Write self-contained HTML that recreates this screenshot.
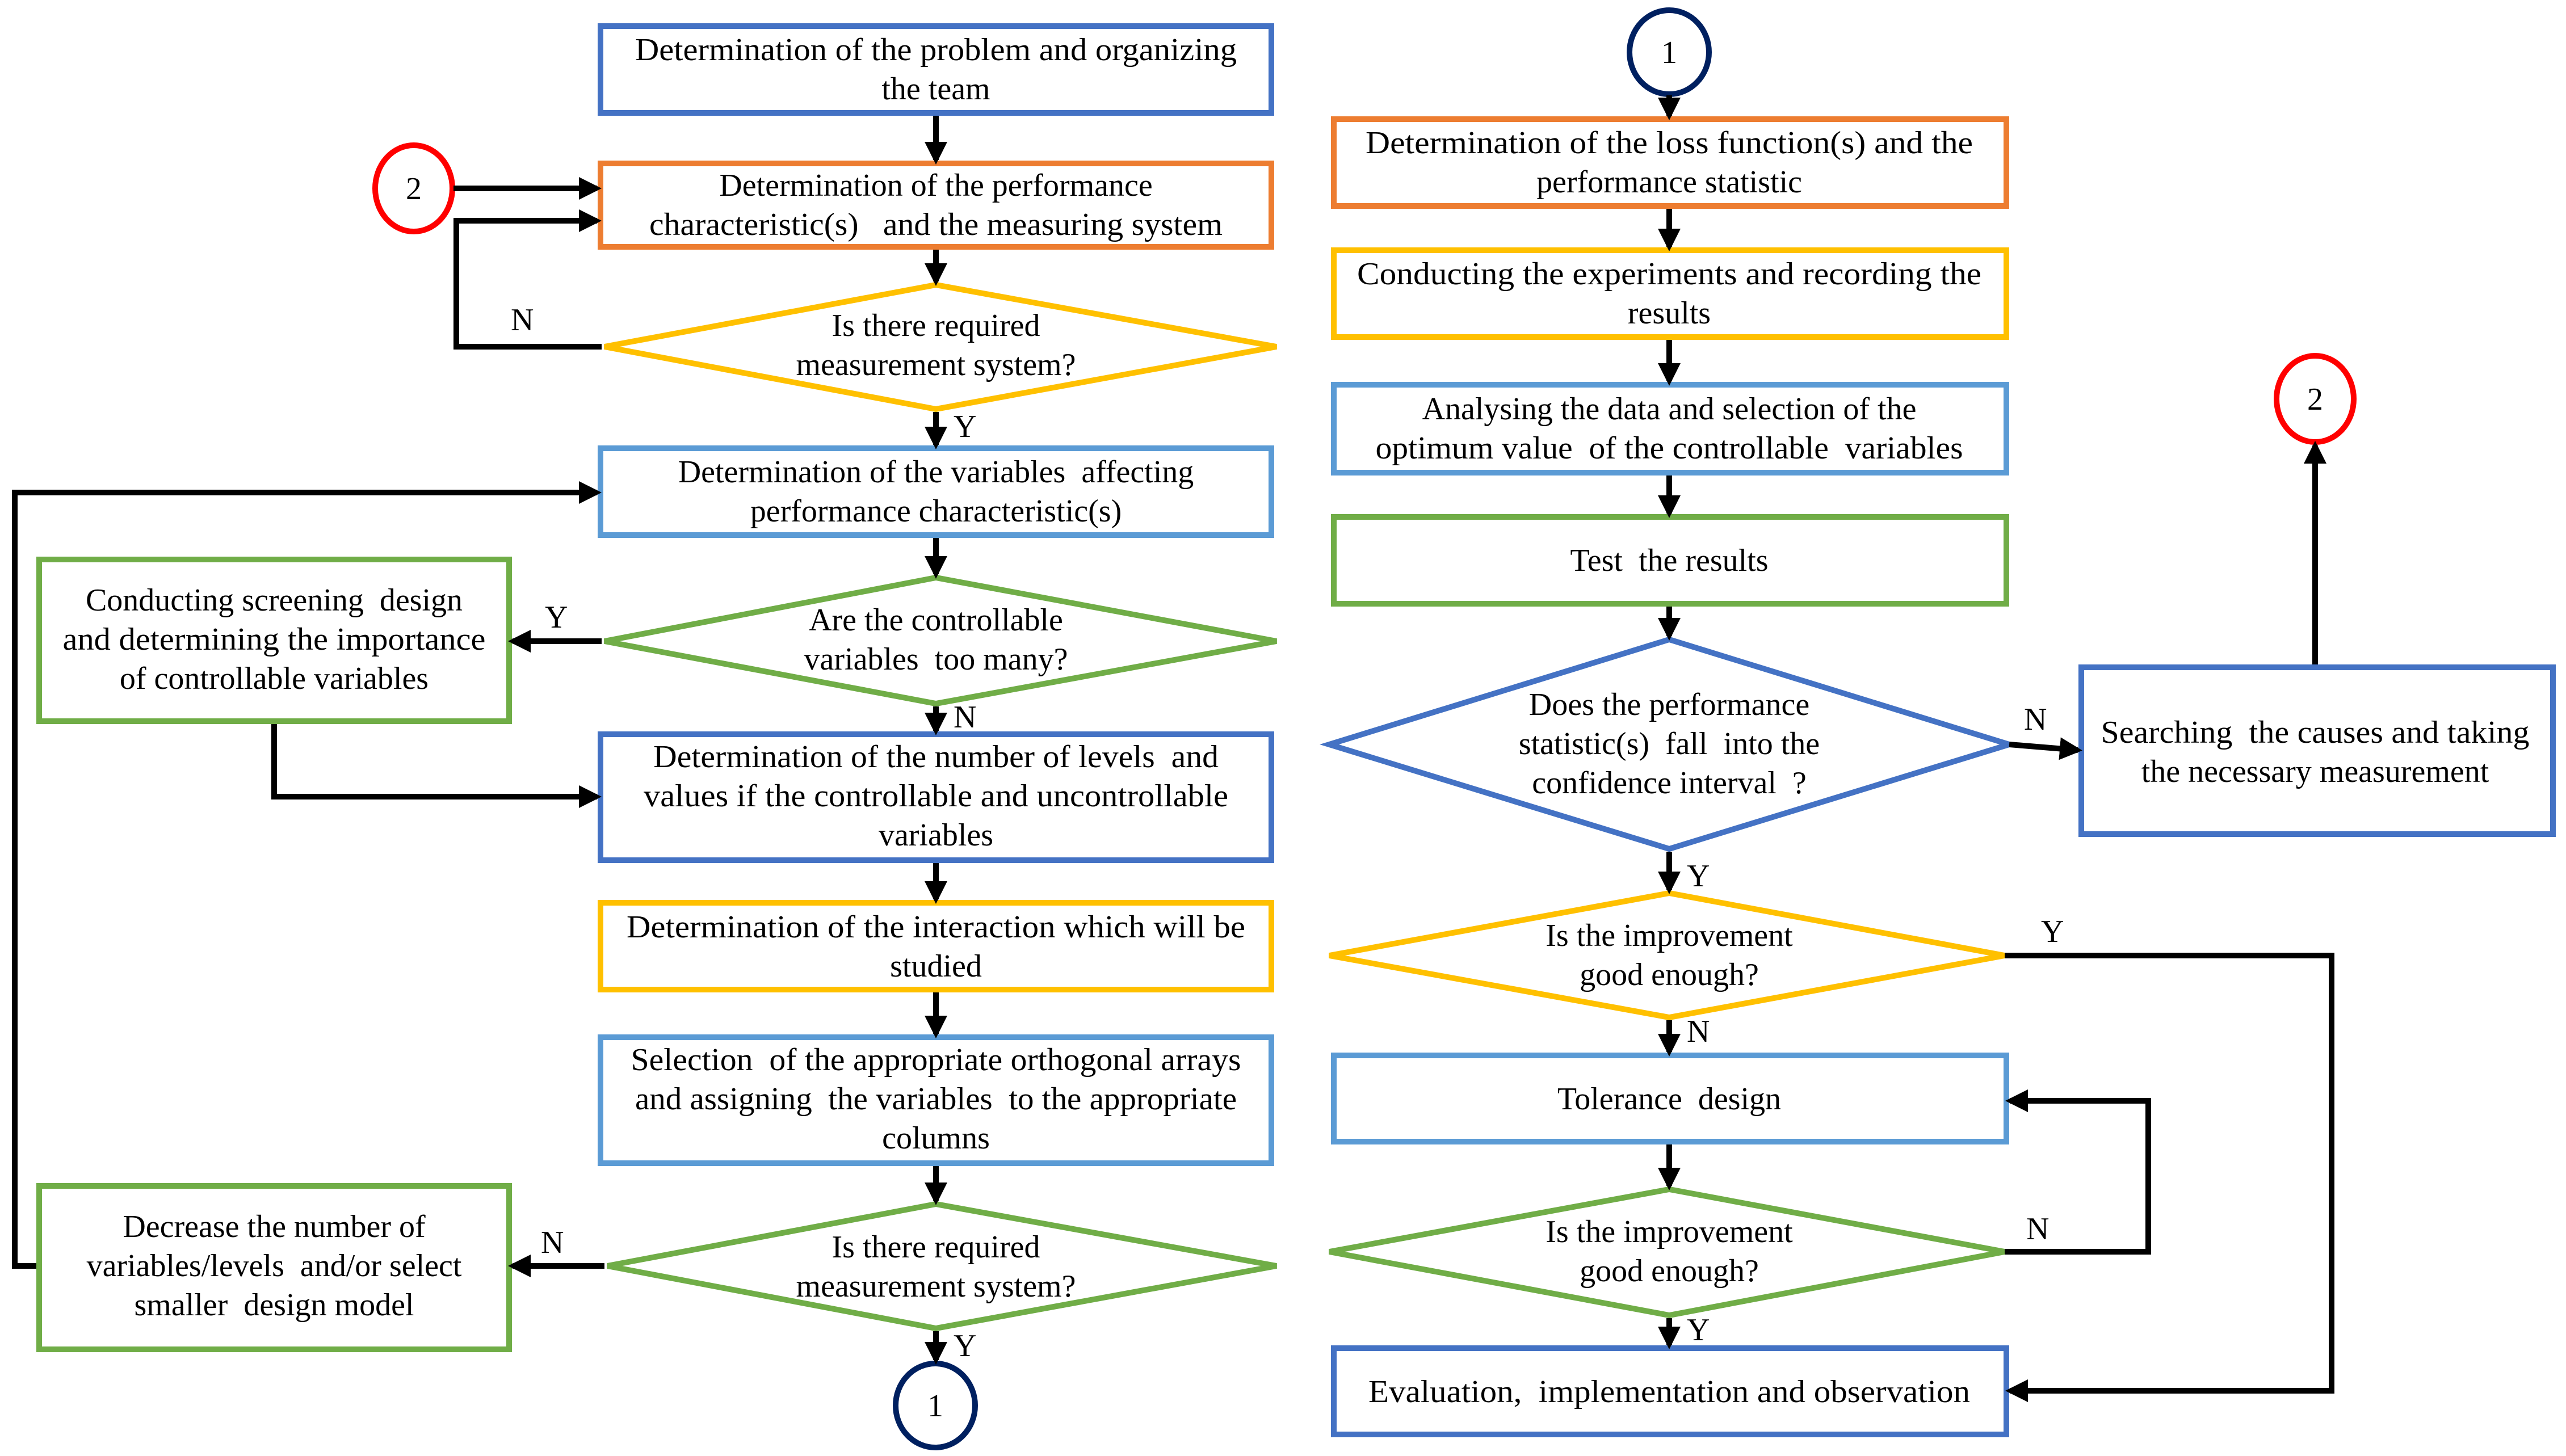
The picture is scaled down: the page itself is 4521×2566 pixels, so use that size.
<!DOCTYPE html>
<html><head><meta charset="utf-8"><style>
html,body{margin:0;padding:0;background:#fff;}
svg{display:block;}
svg text{font-family:"Liberation Serif","DejaVu Serif",serif !important;font-size:56px;fill:#000;}
</style></head><body>
<svg width="4521" height="2566" viewBox="0 0 4521 2566" xmlns="http://www.w3.org/2000/svg" font-family="Liberation Serif, DejaVu Serif, serif">
<defs>
<marker id="a" markerWidth="4" markerHeight="4" refX="3.2" refY="2" orient="auto" markerUnits="strokeWidth">
<path d="M0,0 L4,2 L0,4 z" fill="#000"/>
</marker>
</defs>
<g fill="#fff" stroke-width="10">
<rect x="1058" y="46" width="1182" height="153" stroke="#4472C4"/>
<rect x="1058" y="288" width="1182" height="147" stroke="#ED7D31"/>
<polygon points="1065,611 1649,502 2249,611 1649,721" stroke="#FFC000"/>
<rect x="1058" y="790" width="1182" height="153" stroke="#5B9BD5"/>
<polygon points="1065,1130 1649,1018 2249,1130 1649,1240" stroke="#70AD47"/>
<rect x="69" y="986" width="828" height="285" stroke="#70AD47"/>
<rect x="1058" y="1294" width="1182" height="222" stroke="#4472C4"/>
<rect x="1058" y="1591" width="1182" height="153" stroke="#FFC000"/>
<rect x="1058" y="1828" width="1182" height="222" stroke="#5B9BD5"/>
<polygon points="1070,2231 1649,2122 2249,2231 1649,2341" stroke="#70AD47"/>
<rect x="69" y="2090" width="828" height="288" stroke="#70AD47"/>
<ellipse cx="1648" cy="2477" rx="70" ry="74" stroke="#002060"/>
<ellipse cx="729" cy="332" rx="68" ry="76" stroke="#FF0000"/>
<ellipse cx="2941" cy="92" rx="70" ry="74" stroke="#002060"/>
<rect x="2350" y="210" width="1185" height="153" stroke="#ED7D31"/>
<rect x="2350" y="441" width="1185" height="153" stroke="#FFC000"/>
<rect x="2350" y="678" width="1185" height="155" stroke="#5B9BD5"/>
<rect x="2350" y="911" width="1185" height="153" stroke="#70AD47"/>
<polygon points="2342,1312 2941,1127 3540,1312 2941,1496" stroke="#4472C4"/>
<rect x="3667" y="1176" width="831" height="294" stroke="#4472C4"/>
<ellipse cx="4079" cy="703" rx="68" ry="76" stroke="#FF0000"/>
<polygon points="2342,1684 2941,1574 3532,1684 2941,1793" stroke="#FFC000"/>
<rect x="2350" y="1860" width="1185" height="152" stroke="#5B9BD5"/>
<polygon points="2342,2206 2941,2096 3532,2206 2941,2318" stroke="#70AD47"/>
<rect x="2350" y="2376" width="1185" height="152" stroke="#4472C4"/>
</g>
<g stroke="#000" stroke-width="10" fill="none" marker-end="url(#a)">
<line x1="1649" y1="204" x2="1649" y2="282"/>
<line x1="1649" y1="440" x2="1649" y2="496"/>
<line x1="1649" y1="726" x2="1649" y2="784"/>
<line x1="1649" y1="948" x2="1649" y2="1012"/>
<line x1="1649" y1="1245" x2="1649" y2="1288"/>
<line x1="1649" y1="1521" x2="1649" y2="1585"/>
<line x1="1649" y1="1749" x2="1649" y2="1822"/>
<line x1="1649" y1="2055" x2="1649" y2="2116"/>
<line x1="1649" y1="2346" x2="1649" y2="2397"/>
<line x1="799" y1="332" x2="1052" y2="332"/>
<polyline points="1060,611 804,611 804,389 1052,389"/>
<line x1="1060" y1="1130" x2="903" y2="1130"/>
<polyline points="483,1276 483,1404 1052,1404"/>
<line x1="1065" y1="2231" x2="903" y2="2231"/>
<polyline points="64,2231 26,2231 26,868 1052,868"/>
<line x1="2941" y1="168" x2="2941" y2="204"/>
<line x1="2941" y1="368" x2="2941" y2="435"/>
<line x1="2941" y1="599" x2="2941" y2="672"/>
<line x1="2941" y1="838" x2="2941" y2="905"/>
<line x1="2941" y1="1069" x2="2941" y2="1121"/>
<line x1="2941" y1="1501" x2="2941" y2="1568"/>
<line x1="2941" y1="1798" x2="2941" y2="1854"/>
<line x1="2941" y1="2017" x2="2941" y2="2090"/>
<line x1="2941" y1="2323" x2="2941" y2="2370"/>
<line x1="3540" y1="1312" x2="3661" y2="1322"/>
<line x1="4079" y1="1171" x2="4079" y2="785"/>
<polyline points="3532,1684 4108,1684 4108,2451 3541,2451"/>
<polyline points="3532,2206 3785,2206 3785,1940 3541,1940"/>
</g>
<g text-anchor="middle" font-family="Liberation Serif, DejaVu Serif, serif" font-size="56" transform="scale(1,1)">
<text x="1649" y="106" textLength="1060" lengthAdjust="spacingAndGlyphs">Determination of the problem and organizing</text>
<text x="1649" y="175">the team</text>
<text x="1649" y="345">Determination of the performance</text>
<text x="1649" y="414" textLength="1010" lengthAdjust="spacingAndGlyphs">characteristic(s)&#160;&#160; and the measuring system</text>
<text x="1649" y="592">Is there required</text>
<text x="1649" y="661">measurement system?</text>
<text x="1649" y="850">Determination of the variables&#160; affecting</text>
<text x="1649" y="919">performance characteristic(s)</text>
<text x="1649" y="1111">Are the controllable</text>
<text x="1649" y="1180">variables&#160; too many?</text>
<text x="483" y="1076">Conducting screening&#160; design</text>
<text x="483" y="1145" textLength="745" lengthAdjust="spacingAndGlyphs">and determining the importance</text>
<text x="483" y="1214">of controllable variables</text>
<text x="1649" y="1352" textLength="996" lengthAdjust="spacingAndGlyphs">Determination of the number of levels&#160; and</text>
<text x="1649" y="1421" textLength="1030" lengthAdjust="spacingAndGlyphs">values if the controllable and uncontrollable</text>
<text x="1649" y="1490">variables</text>
<text x="1649" y="1652" textLength="1090" lengthAdjust="spacingAndGlyphs">Determination of the interaction which will be</text>
<text x="1649" y="1721">studied</text>
<text x="1649" y="1886" textLength="1075" lengthAdjust="spacingAndGlyphs">Selection&#160; of the appropriate orthogonal arrays</text>
<text x="1649" y="1955" textLength="1060" lengthAdjust="spacingAndGlyphs">and assigning&#160; the variables&#160; to the appropriate</text>
<text x="1649" y="2024">columns</text>
<text x="1649" y="2216">Is there required</text>
<text x="1649" y="2285">measurement system?</text>
<text x="483" y="2180">Decrease the number of</text>
<text x="483" y="2249">variables/levels&#160; and/or select</text>
<text x="483" y="2318">smaller&#160; design model</text>
<text x="1648" y="2496">1</text>
<text x="729" y="351">2</text>
<text x="2941" y="111">1</text>
<text x="4079" y="722">2</text>
<text x="2941" y="270" textLength="1070" lengthAdjust="spacingAndGlyphs">Determination of the loss function(s) and the</text>
<text x="2941" y="339">performance statistic</text>
<text x="2941" y="501" textLength="1100" lengthAdjust="spacingAndGlyphs">Conducting the experiments and recording the</text>
<text x="2941" y="570">results</text>
<text x="2941" y="739">Analysing the data and selection of the</text>
<text x="2941" y="808" textLength="1035" lengthAdjust="spacingAndGlyphs">optimum value&#160; of the controllable&#160; variables</text>
<text x="2941" y="1006">Test&#160; the results</text>
<text x="2941" y="1260">Does the performance</text>
<text x="2941" y="1329">statistic(s)&#160; fall&#160; into the</text>
<text x="2941" y="1398">confidence interval&#160; ?</text>
<text x="4079" y="1309" textLength="755" lengthAdjust="spacingAndGlyphs">Searching&#160; the causes and taking</text>
<text x="4079" y="1378">the necessary measurement</text>
<text x="2941" y="1667">Is the improvement</text>
<text x="2941" y="1736">good enough?</text>
<text x="2941" y="1955">Tolerance&#160; design</text>
<text x="2941" y="2189">Is the improvement</text>
<text x="2941" y="2258">good enough?</text>
<text x="2941" y="2471" textLength="1060" lengthAdjust="spacingAndGlyphs">Evaluation,&#160; implementation and observation</text>
</g>
<g font-family="Liberation Serif, DejaVu Serif, serif" font-size="56">
<text x="900" y="582">N</text>
<text x="1680" y="770">Y</text>
<text x="960" y="1106">Y</text>
<text x="1680" y="1282">N</text>
<text x="953" y="2208">N</text>
<text x="1680" y="2390">Y</text>
<text x="3566" y="1286">N</text>
<text x="2972" y="1562">Y</text>
<text x="3596" y="1660">Y</text>
<text x="2972" y="1836">N</text>
<text x="3570" y="2184">N</text>
<text x="2972" y="2362">Y</text>
</g>
</svg>
</body></html>
